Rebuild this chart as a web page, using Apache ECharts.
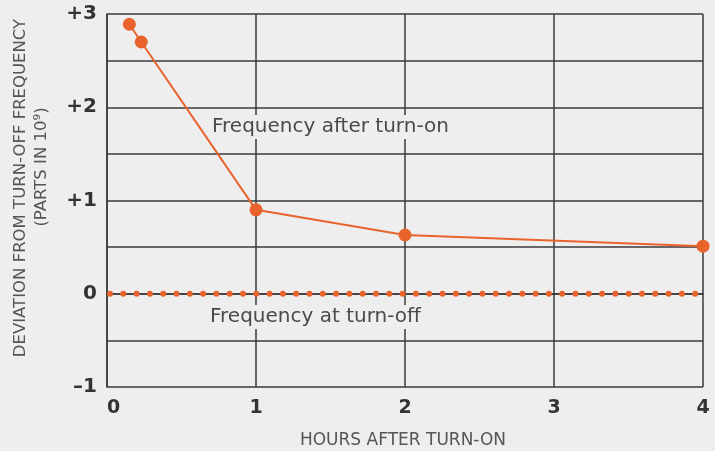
<!DOCTYPE html>
<html>
<head>
<meta charset="utf-8">
<script src="https://cdn.jsdelivr.net/npm/echarts@6/dist/echarts.min.js"></script>
<style>
  html, body { margin: 0; padding: 0; background: #eeeeee; }
  #chart { width: 715px; height: 451px; }
</style>
</head>
<body>
<div id="chart"></div>
<script>
// Frequency drift after turn-on (parts in 10^9)
const hoursAfterTurnOn = [0.15, 0.23, 1, 2, 4];
const deviationAfterTurnOn = [2.89, 2.70, 0.90, 0.63, 0.51];

// Reference level: frequency at turn-off
const turnOffHours = [0, 4];
const turnOffDeviation = [0, 0];

const xTicks = ['0', '1', '2', '3', '4'];
const yTickLabels = { '-1': '\u20131', '0': '0', '1': '+1', '2': '+2', '3': '+3' };

const ORANGE = '#e9632d';
const GRID = '#3a3a3a';
const BG = '#eeeeee';
const FONT = '"DejaVu Sans", "Liberation Sans", Arial, sans-serif';

const chart = echarts.init(document.getElementById('chart'));

chart.setOption({
  backgroundColor: BG,
  animation: false,
  grid: { left: 107, top: 14, right: 12, bottom: 64, containLabel: false },
  xAxis: {
    type: 'value',
    min: 0, max: 4, interval: 1,
    axisLine: { show: true, lineStyle: { color: GRID, width: 1.5 } },
    axisTick: { show: false },
    splitLine: { show: true, lineStyle: { color: GRID, width: 1.5 } },
    axisLabel: {
      margin: 12,
      fontFamily: FONT, fontSize: 19, fontWeight: 'bold', color: '#333',
      alignMinLabel: 'left',
      formatter: v => xTicks[Math.round(v)]
    }
  },
  yAxis: {
    type: 'value',
    min: -1, max: 3, interval: 0.5,
    axisLine: { show: true, lineStyle: { color: GRID, width: 1.5 } },
    axisTick: { show: false },
    splitLine: { show: true, lineStyle: { color: GRID, width: 1.5 } },
    axisLabel: {
      margin: 10,
      fontFamily: FONT, fontSize: 20, fontWeight: 'bold', color: '#333',
      formatter: v => (Number.isInteger(v) ? yTickLabels[String(v)] : '')
    }
  },
  graphic: [
    {
      type: 'text', left: 209, top: 115, z: 10,
      style: {
        text: 'Frequency after turn-on', fontFamily: FONT, fontSize: 20,
        fill: '#4a4a4a', backgroundColor: BG, padding: [2, 3]
      }
    },
    {
      type: 'text', left: 207, top: 305, z: 10,
      style: {
        text: 'Frequency at turn-off', fontFamily: FONT, fontSize: 20,
        fill: '#4a4a4a', backgroundColor: BG, padding: [2, 3]
      }
    },
    {
      type: 'text', x: 21, y: 188, rotation: Math.PI / 2,
      style: {
        text: 'DEVIATION FROM TURN-OFF FREQUENCY', fontFamily: FONT, fontSize: 16.5,
        fill: '#555', align: 'center', verticalAlign: 'middle'
      }
    },
    {
      type: 'text', x: 42, y: 167, rotation: Math.PI / 2,
      style: {
        text: '(PARTS IN 10\u2079)', fontFamily: FONT, fontSize: 16.5,
        fill: '#555', align: 'center', verticalAlign: 'middle'
      }
    },
    {
      type: 'text', x: 403, y: 441,
      style: {
        text: 'HOURS AFTER TURN-ON', fontFamily: FONT, fontSize: 17,
        fill: '#555', align: 'center', verticalAlign: 'middle'
      }
    }
  ],
  series: [
    {
      name: 'Frequency at turn-off',
      type: 'line',
      data: turnOffHours.map((h, i) => [h, turnOffDeviation[i]]),
      symbol: 'none',
      lineStyle: { color: ORANGE, width: 6, type: [0, 13.3], cap: 'round', dashOffset: -3 },
      z: 3
    },
    {
      name: 'Frequency after turn-on',
      type: 'line',
      data: hoursAfterTurnOn.map((h, i) => [h, deviationAfterTurnOn[i]]),
      symbol: 'circle',
      symbolSize: 13,
      itemStyle: { color: ORANGE },
      lineStyle: { color: ORANGE, width: 2 },
      z: 4
    }
  ]
});
</script>
</body>
</html>
